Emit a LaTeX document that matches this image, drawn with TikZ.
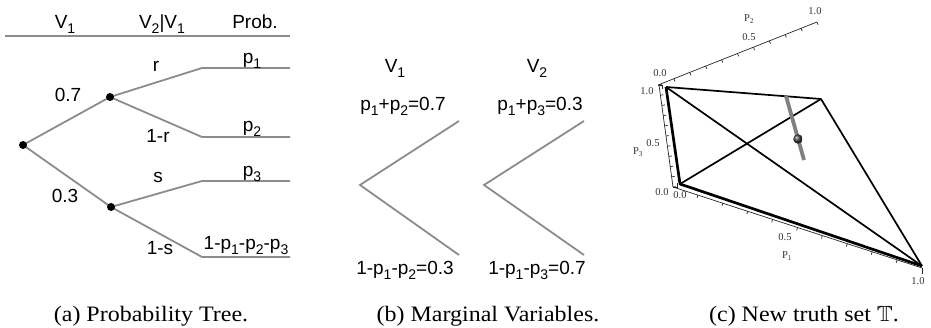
\documentclass[tikz,border=0pt]{standalone}
\usepackage{amssymb}
\usepackage{fontspec}
\setmainfont{Liberation Serif}
\newfontfamily\hv{Liberation Sans}
\usetikzlibrary{calc}
\definecolor{treegray}{gray}{0.55}
\newcommand\ssub[1]{\raisebox{-0.24em}{\fontsize{14}{14}\selectfont #1}}
\newcommand\widecap[1]{\scalebox{1.09}[1]{#1}}
\tikzset{
  br/.style={draw=treegray, line width=1.8pt},
  lbl/.style={font=\hv\fontsize{19}{21}\selectfont, anchor=base, inner sep=0pt},
  captxt/.style={font=\fontsize{22}{24}\selectfont, anchor=base, inner sep=0pt},
  axl/.style={font=\fontsize{10.5}{12}\selectfont, inner sep=0pt, text=black!80},
  dot/.style={circle, fill=black, inner sep=0pt, minimum size=8pt},
  tedge/.style={draw=black, line width=1.7pt, line join=round},
  thedge/.style={draw=black, line width=2.7pt, line join=round},
  axline/.style={draw=black!85, line width=0.7pt},
}
\begin{document}
\begin{tikzpicture}[x=1pt,y=-1pt]
\useasboundingbox (0,0) rectangle (931,328);
% ---------------- (a) probability tree
\coordinate (h0) at (5,36);
\coordinate (h1) at (290,36);
\draw[br] (h0) -- (h1);
\node[lbl] (tV1) at (65,29) {V\ssub{1}};
\node[lbl] (tV21) at (162,29) {V\ssub{2}|V\ssub{1}};
\node[lbl] (tProb) at (255,29) {Prob.};
\coordinate (r0) at (23,145);
\coordinate (m1) at (110,97);
\coordinate (m2) at (111,207);
\coordinate (k1) at (202,68);  \coordinate (t1) at (290,68);
\coordinate (k2) at (202,137); \coordinate (t2) at (290,137);
\coordinate (k3) at (202,181); \coordinate (t3) at (290,181);
\coordinate (k4) at (202,257); \coordinate (t4) at (290,257);
\draw[br] (r0) -- (m1);
\draw[br] (r0) -- (m2);
\draw[br] (m1) -- (k1) -- (t1);
\draw[br] (m1) -- (k2) -- (t2);
\draw[br] (m2) -- (k3) -- (t3);
\draw[br] (m2) -- (k4) -- (t4);
\node[dot] (root) at (r0) {};
\node[dot] (n1) at (m1) {};
\node[dot] (n2) at (m2) {};
\node[lbl] (lr) at (156,72) {r};
\node[lbl] (l07) at (68,102) {0.7};
\node[lbl] (l1r) at (158,143) {1-r};
\node[lbl] (ls) at (158,183) {s};
\node[lbl] (l03) at (65,203) {0.3};
\node[lbl] (l1s) at (160,255) {1-s};
\node[lbl] (lp1) at (252,64) {p\ssub{1}};
\node[lbl] (lp2) at (252,132) {p\ssub{2}};
\node[lbl] (lp3) at (252,177) {p\ssub{3}};
\node[lbl] (lp4) at (246,250) {1-p\ssub{1}-p\ssub{2}-p\ssub{3}};
% ---------------- (b) marginal variables
\coordinate (va) at (360,185);
\coordinate (vau) at (459,121);
\coordinate (val) at (459,255);
\coordinate (vb) at (484,185);
\coordinate (vbu) at (584,121);
\coordinate (vbl) at (584,255);
\draw[br] (vau) -- (va) -- (val);
\draw[br] (vbu) -- (vb) -- (vbl);
\node[lbl] (bV1) at (395,73) {V\ssub{1}};
\node[lbl] (bV2) at (537,73) {V\ssub{2}};
\node[lbl] (b1) at (403,111) {p\ssub{1}+p\ssub{2}=0.7};
\node[lbl] (b2) at (540,111) {p\ssub{1}+p\ssub{3}=0.3};
\node[lbl] (b3) at (405,275) {1-p\ssub{1}-p\ssub{2}=0.3};
\node[lbl] (b4) at (537,275) {1-p\ssub{1}-p\ssub{3}=0.7};
% ---------------- (c) truth set
% axes
\coordinate (O2) at (658,85);
\coordinate (E2) at (817,22);
\coordinate (O3) at (659,85);
\coordinate (E3) at (673,187);
\coordinate (O1) at (673,187);
\coordinate (E1) at (922,268);
\draw[axline] (O2) -- (E2);
\draw[axline] (O3) -- (E3);
\draw[axline] (O1) -- (E1);
\foreach \i in {1,...,10}{
  \draw[axline] ($(O2)!\i/10!(E2)$) -- ++(1.1,2.8);
}
\foreach \i in {0,...,10}{
  \draw[axline] ($(O3)!\i/10!(E3)$) -- ++(3,-0.4);
}
\foreach \i in {1,...,9}{
  \draw[axline] ($(O1)!\i/10!(E1)$) -- ++(-0.9,2.9);
}
\draw[axline] (E1) -- ++(0,6);
\draw[axline] (O1) -- ++(4,0) -- ++(0,-4);
\draw[axline] (O2) -- ++(4,0) -- ++(0,4);
\node[axl] (a21) at (815,11) {1.0};
\node[axl] (a2P) at (749,19) {P\textsubscript{2}};
\node[axl] (a205) at (749,37) {0.5};
\node[axl] (a20) at (660,73) {0.0};
\node[axl] (a31) at (647,91) {1.0};
\node[axl] (a305) at (653,143) {0.5};
\node[axl] (a3P) at (638,152) {P\textsubscript{3}};
\node[axl] (a30) at (662,192) {0.0};
\node[axl] (a10) at (680,195) {0.0};
\node[axl] (a105) at (785,237) {0.5};
\node[axl] (a1P) at (787,256) {P\textsubscript{1}};
\node[axl] (a11) at (918,281) {1.0};
% tetrahedron
\coordinate (A) at (666,87);
\coordinate (B) at (821,99);
\coordinate (C) at (680,184);
\coordinate (D) at (922,266);
\draw[tedge] (A) -- (B) -- (D);
\draw[tedge] (A) -- (D);
\draw[tedge] (B) -- (C);
\draw[thedge] (A) -- (C) -- (D);
\coordinate (G1) at (786,96);
\coordinate (G2) at (804,160);
\draw[draw=gray, line width=3.8pt] (G1) -- (G2);
\node[circle, inner sep=0pt, minimum size=9.5pt, ball color=black!75] (pt) at (798,139) {};
% ---------------- captions
\node[captxt] (ca) at (151,322) {\widecap{(a) Probability Tree.}};
\node[captxt] (cb) at (488,322) {\widecap{(b) Marginal Variables.}};
\node[captxt] (cc) at (804,322) {\widecap{(c) New truth set $\mathbb{T}$.}};
\end{tikzpicture}
\end{document}
